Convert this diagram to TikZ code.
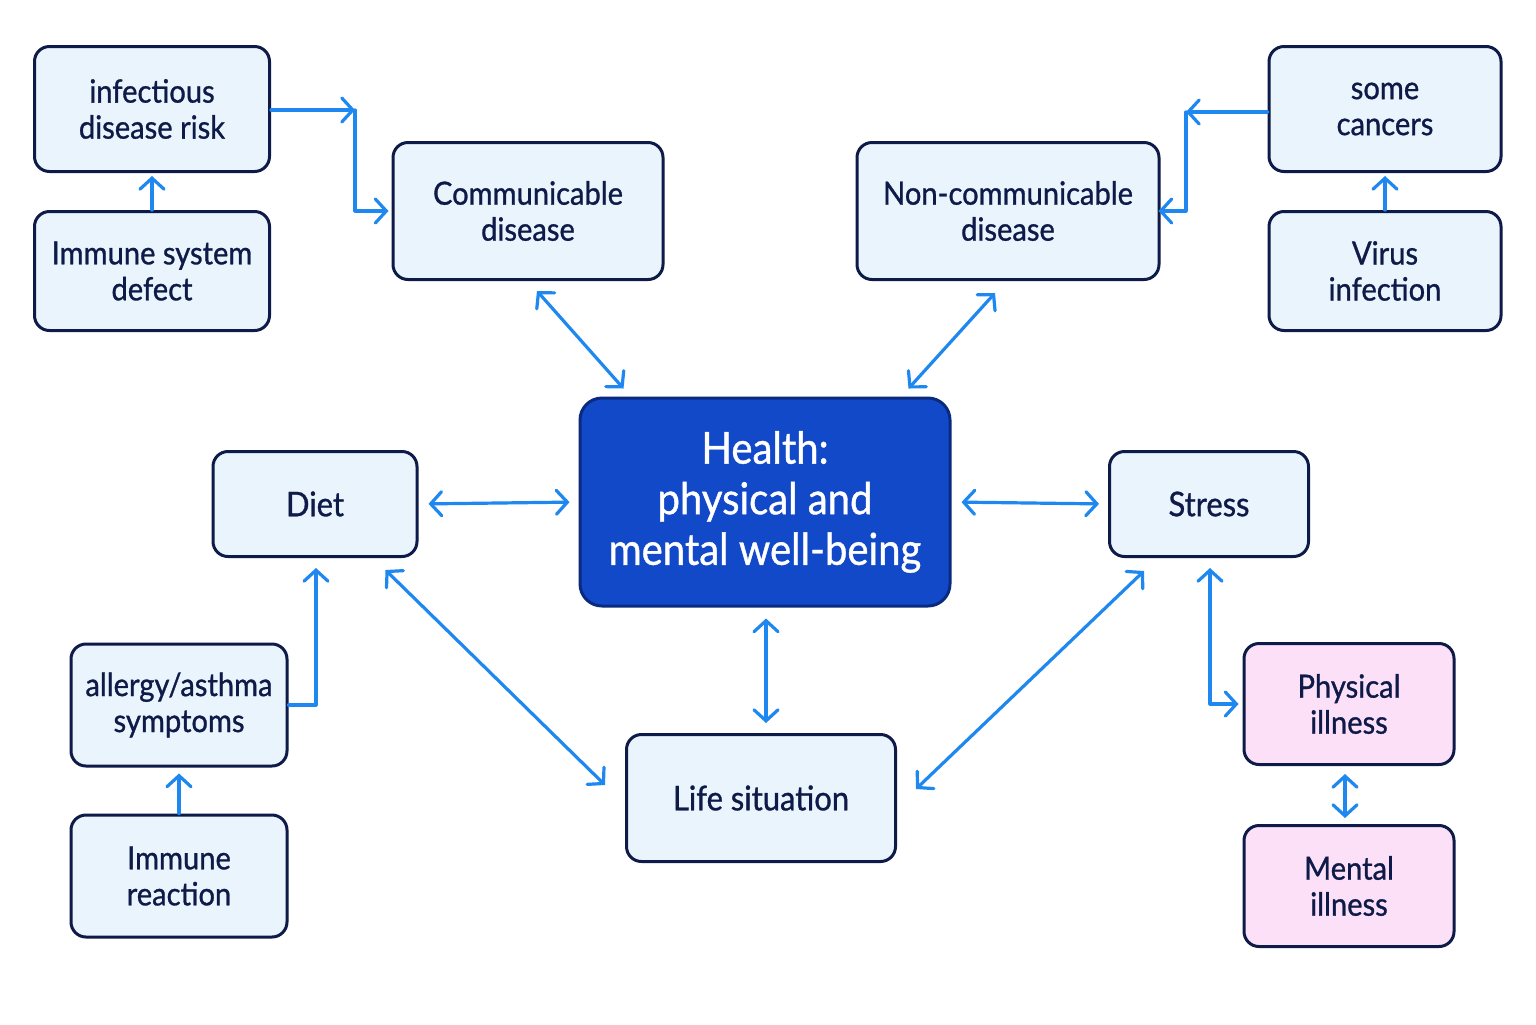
\documentclass[tikz,border=0pt]{standalone}
\usepackage{fontspec}
\setmainfont{Lato}[UprightFeatures={FakeBold=0.9}, FakeStretch=0.91]
\usetikzlibrary{arrows.meta,calc}
\definecolor{navy}{HTML}{0E1A47}
\definecolor{boxfill}{HTML}{EAF4FD}
\definecolor{pinkfill}{HTML}{FCE0F8}
\definecolor{arrowblue}{HTML}{1E88F0}
\definecolor{healthfill}{HTML}{1249C8}
\definecolor{healthdraw}{HTML}{0A2A80}
\tikzset{
  box/.style={draw=navy, line width=1.5pt, fill=boxfill, rounded corners=7.5pt,
    align=center, text=navy, inner sep=0pt,
    font=\fontsize{16}{18}\selectfont},
  pinkbox/.style={box, fill=pinkfill},
  sz/.style 2 args={minimum width=#1*0.5pt, minimum height=#2*0.5pt},
  arr/.style={draw=arrowblue, line width=1.6pt, line cap=round, line join=round,
    -{Straight Barb[length=5.5pt,width=12pt,line cap=round]}},
  darr/.style={arr, {Straight Barb[length=5.5pt,width=12pt,line cap=round]}-{Straight Barb[length=5.5pt,width=12pt,line cap=round]}},
}
\begin{document}
\begin{tikzpicture}[x=0.5pt,y=-0.5pt]
\useasboundingbox (0,0) rectangle (1536,1024);
\fill[white] (0,0) rectangle (1536,1024);

% nodes
\node[box, sz={235}{125}] (inf) at (152,109) {infectious\\disease risk};
\node[box, sz={235}{119}] (isd) at (152,271) {Immune system\\defect};
\node[box, sz={270}{137}] (comm) at (528,211) {Communicable\\disease};
\node[box, sz={302}{137}] (ncomm) at (1008,211) {Non-communicable\\disease};
\node[box, sz={232}{125}] (canc) at (1385,109) {some\\cancers};
\node[box, sz={232}{119}] (virus) at (1385,271) {Virus\\infection};
\node[box, sz={370}{208}, fill=healthfill, draw=healthdraw, rounded corners=11pt, text=white,
  font=\fontsize{22}{25.3}\selectfont] (health) at (765,502) {Health:\\physical and\\mental well-being};
\node[box, sz={204}{105}, font=\fontsize{17}{19}\selectfont] (diet) at (315,504) {Diet};
\node[box, sz={199}{105}, font=\fontsize{17}{19}\selectfont] (stress) at (1209,504) {Stress};
\node[box, sz={216}{122}] (allergy) at (179,705) {allergy/asthma\\symptoms};
\node[box, sz={216}{122}] (imr) at (179,876) {Immune\\reaction};
\node[box, sz={269}{127}, font=\fontsize{17}{19}\selectfont] (life) at (761,798) {Life situation};
\node[pinkbox, sz={210}{121}] (phys) at (1349,704) {Physical\\illness};
\node[pinkbox, sz={210}{121}] (ment) at (1349,886) {Mental\\illness};

% connectors, top left
\coordinate (c1) at (355,110);
\draw[arr] (inf.east |- c1) -- (c1);
\draw[arr, shorten >=1.5pt] (c1) |- (comm.west);
\draw[arr, shorten >=1.5pt] (isd.north) -- (inf.south);

% top right
\coordinate (c2) at (1186,112);
\draw[arr] (canc.west |- c2) -- (c2);
\draw[arr, shorten >=-1pt] (c2) |- (ncomm.east);
\draw[arr, shorten >=1.5pt] (virus.north) -- (canc.south);

% around health
\draw[darr] ($(comm.south)+(9,10)$) -- ($(health.north west)+(45,-8)$);
\draw[darr] ($(ncomm.south)+(-13,12)$) -- ($(health.north east)+(-43,-8)$);
\draw[darr, shorten <=5pt, shorten >=4.5pt] (diet.east) -- (health.west);
\draw[darr, shorten <=5pt, shorten >=4.5pt] (health.east) -- (stress.west);
\draw[darr] ($(health.south)+(1,11)$) -- ($(health.south |- life.north)+(1,-10)$);
\draw[darr] ($(diet.south east)+(-33,12)$) -- ($(life.west)+(-20,-13)$);
\draw[darr] ($(stress.south west)+(36,13)$) -- ($(life.east)+(19,-9)$);

% bottom left
\draw[arr] (allergy.east) -| ($(diet.south)+(1,10)$);
\draw[arr, shorten >=3pt] (imr.north) -- (allergy.south);

% bottom right
\draw[darr, shorten >=2pt] ($(stress.south)+(1,10)$) |- (phys.west);
\draw[darr, shorten <=4pt, shorten >=3pt] ($(phys.south)+(-4,0)$) -- ($(ment.north)+(-4,0)$);
\end{tikzpicture}
\end{document}
